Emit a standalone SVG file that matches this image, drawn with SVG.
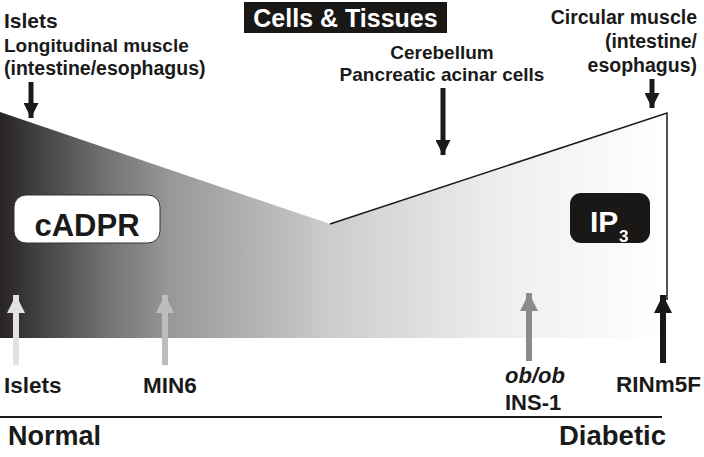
<svg xmlns="http://www.w3.org/2000/svg" width="704" height="457" viewBox="0 0 704 457">
<style>
.t{font-family:"Liberation Sans",Arial,sans-serif;font-weight:bold;fill:#1a1a1a}
.w{fill:#fff}
.ln{stroke:#1a1a1a;fill:none}
</style>
<defs>
<linearGradient id="g" x1="0" y1="0" x2="667" y2="0" gradientUnits="userSpaceOnUse">
<stop offset="0" stop-color="#282424"/>
<stop offset="0.15" stop-color="#6e6e6e"/>
<stop offset="0.25" stop-color="#969696"/>
<stop offset="0.5" stop-color="#cdcdcd"/>
<stop offset="0.75" stop-color="#eeeeee"/>
<stop offset="1" stop-color="#ffffff"/>
</linearGradient>
<marker id="ah" viewBox="0 0 10 10" refX="10" refY="5" markerWidth="3" markerHeight="3" orient="auto" markerUnits="strokeWidth">
<path d="M0,0 L10,5 L0,10 z" fill="context-stroke"/>
</marker>
</defs>
<g id="wedge">
<path d="M0,112 L330,224 L667,113 L667,338 L0,338 Z" fill="url(#g)"/>
<path class="ln" d="M330,224 L667,113 L667,300" stroke-width="1.5"/>
</g>
<g id="title">
<rect x="244" y="2" width="203" height="31" fill="#1a1717"/>
<text class="t w" x="345.5" y="27" font-size="25" text-anchor="middle">Cells &amp; Tissues</text>
</g>
<g id="top-left">
<text class="t" x="4" y="28" font-size="21">Islets</text>
<text class="t" x="4" y="52" font-size="19">Longitudinal muscle</text>
<text class="t" x="4" y="75" font-size="19.5">(intestine/esophagus)</text>
</g>
<g id="top-mid">
<text class="t" x="442" y="59" font-size="19" text-anchor="middle">Cerebellum<tspan x="442" dy="22">Pancreatic acinar cells</tspan></text>
</g>
<g id="top-right">
<text class="t" x="697" y="24" font-size="19.5" text-anchor="end">Circular muscle</text>
<text class="t" x="697" y="48" font-size="19.5" text-anchor="end">(intestine/</text>
<text class="t" x="697" y="72" font-size="19.5" text-anchor="end">esophagus)</text>
</g>
<g id="cadpr">
<rect x="14" y="195" width="146" height="48" rx="12" fill="#fff" stroke="#333" stroke-width="1"/>
<text class="t" x="87" y="236" font-size="31" text-anchor="middle">cADPR</text>
</g>
<g id="ip3">
<rect x="570" y="193" width="80" height="50" rx="11" fill="#1a1717"/>
<text class="t w" x="590" y="232" font-size="30">IP</text>
<text class="t w" x="619" y="242" font-size="17">3</text>
</g>
<g id="bottom-labels">
<text class="t" x="4" y="393" font-size="22.5">Islets</text>
<text class="t" x="143" y="393" font-size="22.5">MIN6</text>
<text class="t" x="505" y="383" font-size="22" font-style="italic">ob/ob</text>
<text class="t" x="505" y="410" font-size="22">INS-1</text>
<text class="t" x="616" y="392" font-size="22.5">RINm5F</text>
<text class="t" x="8" y="445" font-size="27">Normal</text>
<text class="t" x="559" y="445" font-size="27.5">Diabetic</text>
</g>
<g id="connectors">
<path d="M31,82 V118" stroke="#1a1a1a" stroke-width="5" marker-end="url(#ah)"/>
<path d="M443,88 V155" stroke="#1a1a1a" stroke-width="5" marker-end="url(#ah)"/>
<path d="M652,79 V108" stroke="#1a1a1a" stroke-width="5" marker-end="url(#ah)"/>
<path d="M16,365 V295" stroke="#e2e2e2" stroke-width="6" marker-end="url(#ah)"/>
<path d="M165,365 V295" stroke="#bdbdbd" stroke-width="6" marker-end="url(#ah)"/>
<path d="M529,361 V293" stroke="#8a8a8a" stroke-width="6" marker-end="url(#ah)"/>
<path d="M663,363 V295" stroke="#1a1717" stroke-width="6" marker-end="url(#ah)"/>
<path d="M0,417 H662" stroke="#1a1a1a" stroke-width="2"/>
</g>
</svg>
